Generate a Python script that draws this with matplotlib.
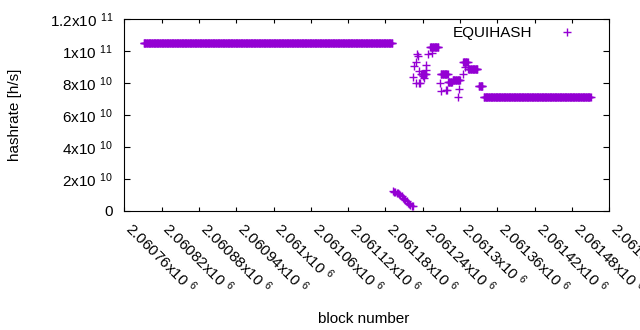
import numpy as np
import matplotlib
matplotlib.use("Agg")
import matplotlib.pyplot as plt

# ----------------------------------------------------
# data
# ----------------------------------------------------
# runs of blocks with the same hashrate (first block, last block, value)
RUN_START = [2060791, 2061237, 2061252, 2061269, 2061281, 2061288, 2061305, 2061313, 2061330, 2061338]
RUN_END = [2061191, 2061245, 2061265, 2061280, 2061287, 2061300, 2061312, 2061328, 2061336, 2061510]
RUN_VALUE = [1.05e11, 0.858e11, 1.0245e11, 0.858e11, 0.805e11, 0.817e11, 0.934e11, 0.886e11, 0.782e11, 0.715e11]

# the drop right after the long flat part
DROP_BLOCK = [2061192, 2061194, 2061196, 2061198, 2061200, 2061202, 2061204, 2061206, 2061208,
              2061210, 2061212, 2061214, 2061216, 2061218, 2061220, 2061222, 2061224]
DROP_VALUE = [1.25e10, 1.20e10, 1.17e10, 1.12e10, 1.08e10, 1.04e10, 0.97e10, 0.90e10, 0.82e10,
              0.75e10, 0.67e10, 0.59e10, 0.51e10, 0.43e10, 0.37e10, 0.32e10, 0.28e10]

# single scattered points
PT_BLOCK = [2061224, 2061226, 2061229, 2061229, 2061231, 2061232, 2061234, 2061234, 2061236,
            2061240, 2061242, 2061245, 2061245, 2061248, 2061255, 2061268, 2061269, 2061277,
            2061279, 2061297, 2061299, 2061304, 2061308]
PT_VALUE = [0.836e11, 0.905e11, 0.932e11, 0.80e11, 0.985e11, 0.968e11, 0.878e11, 0.80e11, 0.80e11,
            0.845e11, 0.832e11, 0.915e11, 0.884e11, 0.984e11, 0.989e11, 0.80e11, 0.748e11, 0.759e11,
            0.757e11, 0.715e11, 0.761e11, 0.857e11, 0.903e11]

XTICKS = [2060760, 2060820, 2060880, 2060940, 2061000, 2061060, 2061120,
          2061180, 2061240, 2061300, 2061360, 2061420, 2061480, 2061540]
XTICK_LABELS = ['2.06076', '2.06082', '2.06088', '2.06094', '2.061', '2.06106', '2.06112',
                '2.06118', '2.06124', '2.0613', '2.06136', '2.06142', '2.06148', '2.06154']
YTICKS = [0, 2e10, 4e10, 6e10, 8e10, 1e11, 1.2e11]
YTICK_LABELS = ['0', '2x10 $^{10}$', '4x10 $^{10}$', '6x10 $^{10}$', '8x10 $^{10}$',
                '1x10 $^{11}$', '1.2x10 $^{11}$']

COLOR = '#9400D3'

plt.rcParams['font.family'] = ['Liberation Sans', 'DejaVu Sans']
plt.rcParams['mathtext.fontset'] = 'custom'
plt.rcParams['mathtext.rm'] = 'Liberation Sans'
plt.rcParams['mathtext.it'] = 'Liberation Sans:italic'
plt.rcParams['mathtext.bf'] = 'Liberation Sans:bold'
plt.rcParams['font.size'] = 11

# build the point list from runs + single points
blocks = []
values = []
for s, e, v in zip(RUN_START, RUN_END, RUN_VALUE):
    b = np.arange(s, e + 1)
    blocks.append(b)
    values.append(np.full(len(b), v))
blocks.append(np.array(DROP_BLOCK))
values.append(np.array(DROP_VALUE))
blocks.append(np.array(PT_BLOCK))
values.append(np.array(PT_VALUE))
blocks = np.concatenate(blocks)
values = np.concatenate(values)

fig = plt.figure(figsize=(6.4, 3.3), dpi=100)
ax = fig.add_axes([124.3 / 640, 1 - 210.7 / 330, 485 / 640, 191.4 / 330])

ax.plot(blocks, values, linestyle='none', marker='+', markersize=5.4,
        markeredgewidth=1.0, color=COLOR, label='EQUIHASH')

ax.set_xlim(XTICKS[0], XTICKS[-1])
ax.set_ylim(0, 1.2e11)

ax.set_xticks(XTICKS)
ax.set_xticklabels([t + 'x10 $^{6}$' for t in XTICK_LABELS], rotation=-45,
                   ha='left', va='baseline', rotation_mode='anchor')
ax.set_yticks(YTICKS)
ax.set_yticklabels(YTICK_LABELS)

ax.tick_params(axis='both', direction='in', top=True, right=True, width=0.8)
ax.tick_params(axis='x', length=3, pad=14)
ax.tick_params(axis='y', length=4.5, pad=8)
for sp in ax.spines.values():
    sp.set_linewidth(0.8)

fig.text(15.5 / 640, 1 - 115 / 330, 'hashrate [h/s]', rotation=90, ha='center', va='center')
fig.text(364 / 640, 1 - 323.3 / 330, 'block number', ha='center', va='baseline')

ax.legend(loc='upper right', bbox_to_anchor=(0.958, 0.963), markerfirst=False, frameon=False,
          borderpad=0, borderaxespad=0, handlelength=2.9, handletextpad=0.8)

fig.savefig('out.png', dpi=100)
